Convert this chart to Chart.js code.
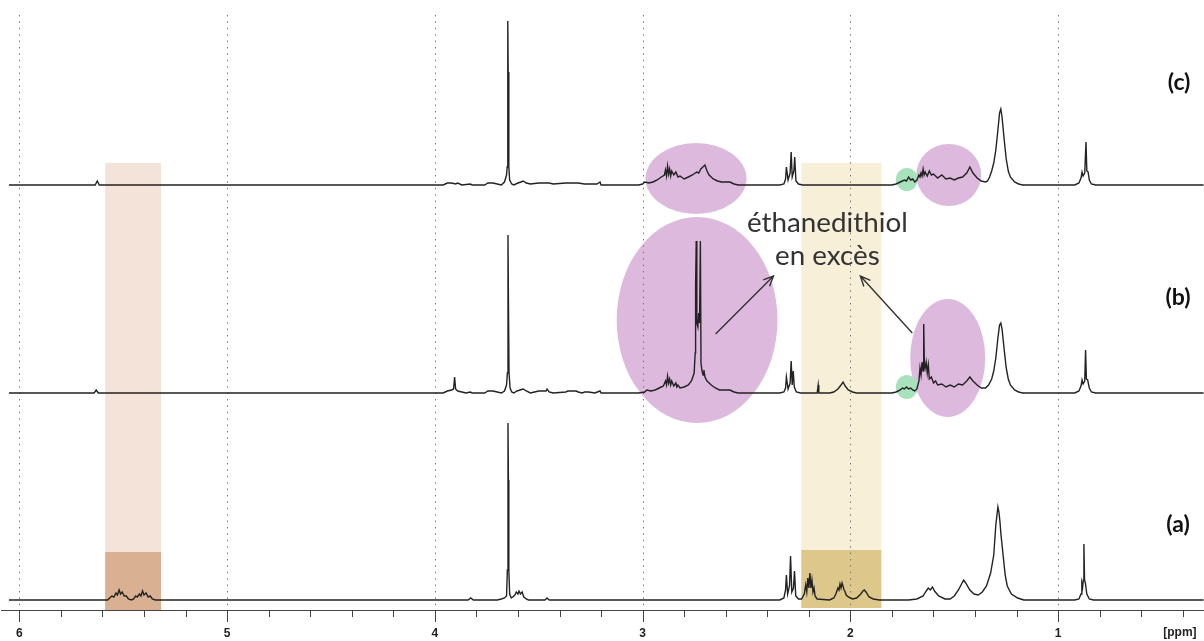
<!DOCTYPE html>
<html>
<head>
<meta charset="utf-8">
<script src="https://cdn.jsdelivr.net/npm/chart.js@4.4.0/dist/chart.umd.min.js"></script>
<style>
  html, body { margin: 0; padding: 0; background: #fff; }
  #wrap { width: 1204px; height: 641px; position: relative; }
</style>
</head>
<body>
<div id="wrap"><canvas id="nmr"></canvas></div>
<script>
// axis ticks (ppm)
const ppmMajor = [6, 5, 4, 3, 2, 1];
const ppmTicks = [6.0, 5.8, 5.6, 5.4, 5.2, 5.0, 4.8, 4.6, 4.4, 4.2, 4.0, 3.8, 3.6, 3.4, 3.2,
  3.0, 2.8, 2.6, 2.4, 2.2, 2.0, 1.8, 1.6, 1.4, 1.2, 1.0, 0.8, 0.6, 0.4];

// spectrum (a) : [ppm, intensity]
const specA = [
  [6.05, 0], [5.575, 0], [5.565, 2], [5.555, 4], [5.545, 3], [5.535, 7], [5.528, 5], [5.52, 10],
  [5.513, 6], [5.505, 8], [5.495, 4], [5.485, 4], [5.475, 1], [5.46, 0], [5.45, 1], [5.44, 4],
  [5.432, 3], [5.422, 6], [5.415, 4], [5.407, 9], [5.40, 5], [5.39, 7], [5.38, 3], [5.37, 4],
  [5.36, 1], [5.345, 0],
  [3.84, 0], [3.827, 2], [3.815, 0], [3.70, 0], [3.68, 1], [3.665, 2], [3.655, 4], [3.651, 30],
  [3.648, 177], [3.646, 120], [3.644, 30], [3.64, 6], [3.632, 2], [3.625, 3], [3.615, 5],
  [3.608, 8], [3.60, 6], [3.595, 9], [3.588, 6], [3.58, 8], [3.572, 3], [3.56, 1], [3.55, 0],
  [3.47, 0], [3.46, 2], [3.45, 0],
  [2.34, 0], [2.32, 2], [2.312, 10], [2.308, 25], [2.302, 6], [2.293, 14], [2.288, 44], [2.282, 8],
  [2.274, 12], [2.269, 29], [2.263, 4], [2.25, 1], [2.235, 1], [2.222, 6], [2.215, 15], [2.21, 8],
  [2.205, 22], [2.20, 12], [2.195, 27], [2.19, 12], [2.185, 20], [2.18, 8], [2.175, 12], [2.17, 4],
  [2.16, 1], [2.10, 0], [2.08, 2], [2.07, 6], [2.06, 12], [2.055, 10], [2.05, 16], [2.045, 12],
  [2.04, 17], [2.03, 10], [2.025, 8], [2.02, 5], [2.01, 3], [1.99, 1], [1.97, 2], [1.95, 6],
  [1.94, 9], [1.933, 10], [1.925, 8], [1.91, 3], [1.89, 1], [1.86, 0],
  [1.72, 0], [1.68, 1], [1.65, 4], [1.635, 9], [1.625, 12], [1.615, 10], [1.605, 13], [1.595, 9],
  [1.575, 4], [1.545, 1], [1.52, 1], [1.50, 4], [1.48, 10], [1.465, 16], [1.455, 20], [1.445, 17],
  [1.425, 10], [1.405, 6], [1.385, 5], [1.365, 8], [1.345, 14], [1.325, 27], [1.31, 45], [1.30, 75],
  [1.29, 93], [1.285, 88], [1.28, 78], [1.275, 65], [1.265, 45], [1.255, 25], [1.245, 14],
  [1.225, 6], [1.195, 2], [1.165, 0],
  [0.92, 0], [0.90, 1], [0.89, 6], [0.886, 17], [0.882, 13], [0.879, 20], [0.876, 56], [0.873, 20],
  [0.869, 17], [0.862, 6], [0.85, 1], [0.83, 0], [0.30, 0]
];

// spectrum (b)
const specB = [
  [6.05, 0], [5.64, 0], [5.63, 3], [5.62, 0], [3.96, 0], [3.94, 2], [3.92, 3], [3.91, 4], [3.905, 16],
  [3.90, 4], [3.89, 2], [3.87, 1], [3.85, 0], [3.83, 1], [3.82, 0], [3.76, 0], [3.745, 2], [3.72, 2],
  [3.70, 1], [3.68, 0], [3.665, 2], [3.655, 8], [3.651, 20], [3.648, 158], [3.646, 96], [3.643, 20],
  [3.638, 5], [3.63, 1], [3.62, 0], [3.605, 2], [3.59, 3], [3.575, 4], [3.56, 2], [3.54, 0],
  [3.52, 1], [3.50, 2], [3.48, 2], [3.465, 2], [3.46, 4], [3.45, 1], [3.43, 0], [3.37, 1], [3.36, 2],
  [3.34, 2], [3.32, 2], [3.31, 1], [3.29, 0], [3.28, 1], [3.26, 1], [3.23, 0], [3.205, 2], [3.20, 0],
  [3.02, 0], [2.99, 1], [2.98, 3], [2.96, 2], [2.94, 3], [2.92, 5], [2.90, 7], [2.89, 12],
  [2.885, 8], [2.88, 17], [2.875, 10], [2.87, 14], [2.865, 8], [2.86, 12], [2.85, 7], [2.84, 10],
  [2.835, 6], [2.83, 8], [2.82, 5], [2.80, 6], [2.78, 8], [2.765, 12], [2.752, 20], [2.747, 40],
  [2.745, 108], [2.742, 152], [2.739, 70], [2.734, 66], [2.73, 80], [2.726, 70], [2.722, 152],
  [2.719, 30], [2.714, 22], [2.709, 18], [2.705, 23], [2.70, 16], [2.69, 12], [2.67, 8], [2.65, 5],
  [2.63, 3], [2.60, 3], [2.58, 3], [2.56, 1], [2.54, 0],
  [2.34, 0], [2.32, 1], [2.312, 5], [2.308, 16], [2.30, 4], [2.29, 10], [2.285, 32], [2.28, 8],
  [2.275, 22], [2.27, 6], [2.26, 1], [2.24, 0], [2.16, 0], [2.155, 8], [2.152, 0], [2.10, 0],
  [2.08, 1], [2.06, 4], [2.045, 8], [2.035, 11], [2.025, 7], [2.01, 3], [1.99, 1], [1.97, 0],
  [1.80, 0], [1.78, 1], [1.76, 3], [1.75, 5], [1.74, 4], [1.73, 6], [1.72, 4], [1.71, 5], [1.70, 3],
  [1.69, 2], [1.68, 4], [1.67, 12], [1.665, 25], [1.66, 18], [1.655, 31], [1.65, 22], [1.647, 69],
  [1.644, 30], [1.64, 25], [1.635, 31], [1.63, 20], [1.625, 28], [1.62, 14], [1.61, 16], [1.60, 10],
  [1.59, 12], [1.58, 8], [1.56, 9], [1.54, 6], [1.52, 8], [1.50, 6], [1.48, 9], [1.46, 8], [1.44, 12],
  [1.425, 16], [1.41, 12], [1.39, 8], [1.37, 5], [1.35, 5], [1.335, 8], [1.32, 14], [1.31, 22],
  [1.30, 35], [1.29, 55], [1.282, 68], [1.276, 70], [1.27, 64], [1.26, 44], [1.25, 25], [1.24, 14],
  [1.23, 8], [1.21, 3], [1.19, 1], [1.17, 0],
  [0.92, 0], [0.90, 2], [0.89, 7], [0.885, 13], [0.88, 9], [0.872, 12], [0.868, 43], [0.864, 14],
  [0.858, 13], [0.85, 5], [0.84, 1], [0.82, 0], [0.30, 0]
];

// spectrum (c)
const specC = [
  [6.05, 0], [5.635, 0], [5.625, 4], [5.615, 0], [3.96, 0], [3.94, 2], [3.92, 2], [3.90, 1], [3.89, 2],
  [3.87, 0], [3.83, 1], [3.82, 0], [3.76, 0], [3.745, 2], [3.72, 2], [3.70, 1], [3.68, 0], [3.665, 3],
  [3.655, 10], [3.652, 18], [3.649, 164], [3.647, 113], [3.644, 18], [3.64, 5], [3.63, 1], [3.62, 0],
  [3.60, 2], [3.585, 3], [3.575, 4], [3.56, 2], [3.54, 1], [3.50, 2], [3.47, 2], [3.45, 2], [3.43, 1],
  [3.37, 2], [3.34, 2], [3.31, 2], [3.28, 1], [3.26, 1], [3.22, 1], [3.205, 3], [3.20, 0], [3.02, 0],
  [3.00, 1], [2.99, 3], [2.97, 2], [2.95, 3], [2.93, 5], [2.91, 8], [2.895, 10], [2.89, 15],
  [2.885, 9], [2.88, 19], [2.875, 11], [2.87, 16], [2.865, 9], [2.86, 14], [2.85, 10], [2.84, 13],
  [2.83, 8], [2.82, 9], [2.80, 6], [2.78, 8], [2.76, 10], [2.74, 13], [2.73, 12], [2.72, 16],
  [2.71, 18], [2.70, 20], [2.69, 14], [2.68, 10], [2.66, 6], [2.64, 4], [2.62, 3], [2.60, 3],
  [2.58, 3], [2.56, 1], [2.54, 0],
  [2.34, 0], [2.32, 1], [2.312, 6], [2.308, 18], [2.30, 5], [2.29, 12], [2.285, 33], [2.28, 8],
  [2.272, 14], [2.268, 28], [2.262, 4], [2.25, 1], [2.23, 0],
  [1.80, 0], [1.78, 1], [1.76, 3], [1.74, 5], [1.73, 4], [1.72, 8], [1.71, 5], [1.70, 6], [1.69, 3],
  [1.68, 5], [1.67, 10], [1.665, 8], [1.66, 12], [1.655, 9], [1.65, 16], [1.645, 10], [1.64, 13],
  [1.63, 9], [1.62, 14], [1.61, 10], [1.60, 11], [1.58, 7], [1.56, 10], [1.54, 6], [1.52, 7],
  [1.50, 5], [1.48, 7], [1.46, 8], [1.44, 12], [1.425, 18], [1.41, 12], [1.39, 7], [1.37, 4],
  [1.35, 3], [1.34, 4], [1.33, 8], [1.32, 14], [1.31, 22], [1.30, 35], [1.29, 55], [1.282, 72],
  [1.276, 76], [1.27, 68], [1.26, 46], [1.25, 26], [1.24, 14], [1.23, 8], [1.21, 3], [1.19, 1],
  [1.17, 0],
  [0.92, 0], [0.90, 2], [0.89, 7], [0.885, 13], [0.88, 9], [0.872, 12], [0.866, 43], [0.862, 14],
  [0.856, 13], [0.85, 5], [0.84, 1], [0.82, 0], [0.30, 0]
];

const traceNames = ['(a)', '(b)', '(c)'];

// stacking of the three traces (vertical offset in intensity units)
const offsets = [0, 207, 415];

// highlight boxes: x in ppm, y in stacked units
const boxes = [
  { x1: 5.587, x2: 5.318, y1: 437, y2: -10, color: '#f4e3d8' },
  { x1: 5.587, x2: 5.318, y1: 48, y2: -10, color: '#d9b092' },
  { x1: 2.236, x2: 1.851, y1: 437, y2: -8, color: '#f8efd8' },
  { x1: 2.236, x2: 1.851, y1: 50, y2: -8, color: '#ddc78a' }
];
const ellipses = [
  { x1: 2.986, x2: 2.500, y1: 457, y2: 386, color: '#ddbadd' },
  { x1: 1.683, x2: 1.370, y1: 456, y2: 394, color: '#ddbadd' },
  { x1: 3.125, x2: 2.351, y1: 383, y2: 177, color: '#ddbadd' },
  { x1: 1.712, x2: 1.351, y1: 301, y2: 183, color: '#ddbadd' },
  { x1: 1.781, x2: 1.676, y1: 432, y2: 409, color: '#a8e2bd' },
  { x1: 1.781, x2: 1.676, y1: 225, y2: 201, color: '#a8e2bd' }
];
const arrows = [
  { from: [2.649, 266], to: [2.370, 324] },
  { from: [1.702, 267], to: [1.952, 324] }
];
const noteLines = ['éthanedithiol', 'en excès'];
const labelPos = [[0.423, 75], [0.423, 302], [0.418, 517]];

const overlays = {
  id: 'overlays',
  beforeDatasetsDraw(chart) {
    const { ctx, chartArea, scales: { x, y } } = chart;
    ctx.save();
    boxes.forEach(b => {
      const l = x.getPixelForValue(b.x1), r = x.getPixelForValue(b.x2);
      const t = y.getPixelForValue(b.y1), btm = y.getPixelForValue(b.y2);
      ctx.fillStyle = b.color;
      ctx.fillRect(Math.min(l, r), t, Math.abs(r - l), btm - t);
    });
    ellipses.forEach(e => {
      const l = x.getPixelForValue(e.x1), r = x.getPixelForValue(e.x2);
      const t = y.getPixelForValue(e.y1), btm = y.getPixelForValue(e.y2);
      ctx.fillStyle = e.color;
      ctx.beginPath();
      ctx.ellipse((l + r) / 2, (t + btm) / 2, Math.abs(r - l) / 2, Math.abs(btm - t) / 2, 0, 0, Math.PI * 2);
      ctx.fill();
    });
    // dotted grid at integer ppm
    ctx.strokeStyle = '#707070';
    ctx.lineWidth = 1;
    ctx.setLineDash([1.4, 5]);
    ppmMajor.forEach(v => {
      const px = Math.round(x.getPixelForValue(v)) + 0.5;
      ctx.beginPath();
      ctx.moveTo(px, chartArea.top);
      ctx.lineTo(px, chartArea.bottom);
      ctx.stroke();
    });
    ctx.restore();
  },
  afterDraw(chart) {
    const { ctx, scales: { x, y } } = chart;
    ctx.save();
    // tick marks
    ctx.strokeStyle = '#444';
    ctx.lineWidth = 1;
    ppmTicks.forEach(v => {
      const px = Math.round(x.getPixelForValue(v)) + 0.5;
      const len = ppmMajor.includes(v) ? 12 : 7;
      ctx.beginPath();
      ctx.moveTo(px, x.top);
      ctx.lineTo(px, x.top + len);
      ctx.stroke();
    });
    ctx.fillStyle = '#222';
    ctx.font = 'bold 12px "Liberation Sans", Arial, sans-serif';
    ctx.textAlign = 'center';
    ctx.textBaseline = 'middle';
    ctx.fillText('[ppm]', x.getPixelForValue(0.414), x.top + 23);

    // annotation text
    ctx.font = '26px Lato, "Open Sans", sans-serif';
    const w = ctx.measureText(noteLines[0]).width;
    const size = 26 * 161 / w;
    ctx.font = size.toFixed(1) + 'px Lato, "Open Sans", sans-serif';
    ctx.fillStyle = '#333';
    ctx.textBaseline = 'alphabetic';
    const cx = x.getPixelForValue(2.111);
    ctx.fillText(noteLines[0], cx, y.getPixelForValue(368));
    ctx.fillText(noteLines[1], cx, y.getPixelForValue(335));

    // arrows
    ctx.strokeStyle = '#333';
    ctx.lineWidth = 1.4;
    arrows.forEach(a => {
      const x0 = x.getPixelForValue(a.from[0]), y0 = y.getPixelForValue(a.from[1]);
      const x1 = x.getPixelForValue(a.to[0]), y1 = y.getPixelForValue(a.to[1]);
      const ang = Math.atan2(y1 - y0, x1 - x0);
      ctx.beginPath();
      ctx.moveTo(x0, y0);
      ctx.lineTo(x1, y1);
      ctx.moveTo(x1 - 11 * Math.cos(ang - 0.42), y1 - 11 * Math.sin(ang - 0.42));
      ctx.lineTo(x1, y1);
      ctx.lineTo(x1 - 11 * Math.cos(ang + 0.42), y1 - 11 * Math.sin(ang + 0.42));
      ctx.stroke();
    });

    // trace labels
    ctx.font = 'bold 23px Lato, "Open Sans", sans-serif';
    ctx.fillStyle = '#111';
    ctx.textBaseline = 'middle';
    traceNames.forEach((n, i) => {
      ctx.fillText(n, x.getPixelForValue(labelPos[i][0]), y.getPixelForValue(labelPos[i][1]));
    });
    ctx.restore();
  }
};

const specs = [specA, specB, specC];
const datasets = specs.map((s, i) => ({
  label: traceNames[i],
  data: s.map(([p, h]) => ({ x: p, y: h + offsets[i] })),
  borderColor: '#222',
  borderWidth: 1.4,
  pointRadius: 0,
  tension: 0,
  fill: false
}));

new Chart(document.getElementById('nmr').getContext('2d'), {
  type: 'line',
  data: { datasets },
  options: {
    responsive: true,
    maintainAspectRatio: false,
    animation: false,
    layout: { padding: { top: 15, left: 0, right: 0, bottom: 0 } },
    plugins: { legend: { display: false }, tooltip: { enabled: false } },
    scales: {
      x: {
        type: 'linear',
        reverse: true,
        min: 0.298,
        max: 6.087,
        afterBuildTicks: s => { s.ticks = ppmTicks.map(v => ({ value: v })); },
        afterFit: s => { s.height = 31; },
        grid: { display: false, drawTicks: false },
        border: { display: true, color: '#444', width: 1 },
        ticks: {
          autoSkip: false,
          maxRotation: 0,
          padding: 16,
          color: '#222',
          font: { family: '"Liberation Sans", Arial, sans-serif', size: 12, weight: 'bold' },
          callback: v => (ppmMajor.includes(v) ? String(v) : '')
        }
      },
      y: { display: false, min: -10, max: 585 }
    }
  },
  plugins: [overlays]
});
</script>
</body>
</html>
